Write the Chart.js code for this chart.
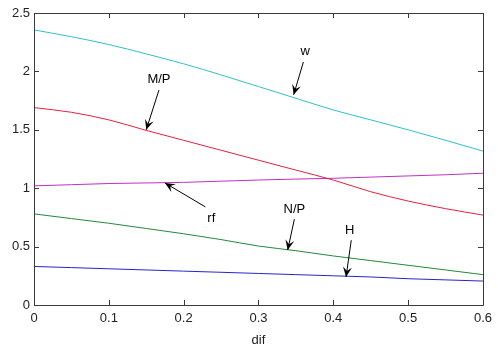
<!DOCTYPE html>
<html>
<head>
<meta charset="utf-8">
<script src="https://cdn.jsdelivr.net/npm/chart.js@4/dist/chart.umd.min.js"></script>
<style>
  html, body { margin: 0; padding: 0; background: #fff; }
  #wrap { width: 498px; height: 348px; }
</style>
</head>
<body>
<div id="wrap"><canvas id="chart" width="498" height="348"></canvas></div>
<script>
const dif = [0, 0.05, 0.1, 0.15, 0.2, 0.25, 0.3, 0.35, 0.4, 0.45, 0.5, 0.55, 0.6];
const w   = [2.355, 2.297, 2.23, 2.15, 2.065, 1.97, 1.87, 1.77, 1.67, 1.585, 1.50, 1.41, 1.318];
const mp  = [1.69, 1.65, 1.585, 1.495, 1.41, 1.325, 1.24, 1.155, 1.07, 0.97, 0.89, 0.825, 0.77];
const rf  = [1.02, 1.03, 1.04, 1.045, 1.05, 1.06, 1.07, 1.078, 1.085, 1.095, 1.105, 1.115, 1.128];
const np  = [0.78, 0.74, 0.70, 0.655, 0.61, 0.56, 0.505, 0.465, 0.42, 0.38, 0.34, 0.30, 0.26];
const h   = [0.33, 0.32, 0.31, 0.30, 0.29, 0.28, 0.27, 0.26, 0.25, 0.24, 0.225, 0.215, 0.205];

const xTicks = [0, 0.1, 0.2, 0.3, 0.4, 0.5, 0.6];
const yTicks = [0, 0.5, 1, 1.5, 2, 2.5];

// annotation: label, text position, arrow tail, arrow tip (data units)
const notes = [
  { text: "w",   tx: 0.3625, ty: 2.17, x0: 0.360, y0: 2.08, x1: 0.347, y1: 1.80 },
  { text: "M/P", tx: 0.167,  ty: 1.93, x0: 0.167, y0: 1.84, x1: 0.150, y1: 1.50 },
  { text: "rf",  tx: 0.237,  ty: 0.74, x0: 0.229, y0: 0.84, x1: 0.175, y1: 1.045 },
  { text: "N/P", tx: 0.348,  ty: 0.82, x0: 0.348, y0: 0.735, x1: 0.339, y1: 0.47 },
  { text: "H",   tx: 0.422,  ty: 0.64, x0: 0.424, y0: 0.555, x1: 0.417, y1: 0.24 }
];

const pts = arr => arr.map((v, i) => ({ x: dif[i], y: v }));
const line = (data, color) => ({
  data: pts(data), borderColor: color, borderWidth: 1, pointRadius: 0,
  fill: false, cubicInterpolationMode: "monotone"
});

const font = "'Liberation Sans', Arial, sans-serif";

const boxPlugin = {
  id: "box",
  afterDatasetsDraw(chart) {
    const { ctx, chartArea: a, scales: { x, y } } = chart;
    ctx.save();
    ctx.strokeStyle = "#3a3a3a";
    ctx.lineWidth = 1;
    ctx.beginPath();
    ctx.rect(Math.round(a.left) + 0.5, Math.round(a.top) + 0.5,
             Math.round(a.right - a.left), Math.round(a.bottom - a.top));
    xTicks.forEach(t => {
      const px = Math.round(x.getPixelForValue(t)) + 0.5;
      ctx.moveTo(px, a.bottom); ctx.lineTo(px, a.bottom - 5);
      ctx.moveTo(px, a.top); ctx.lineTo(px, a.top + 5);
    });
    yTicks.forEach(t => {
      const py = Math.round(y.getPixelForValue(t)) + 0.5;
      ctx.moveTo(a.left, py); ctx.lineTo(a.left + 5, py);
      ctx.moveTo(a.right, py); ctx.lineTo(a.right - 5, py);
    });
    ctx.stroke();

    // arrows and labels
    ctx.strokeStyle = "#000";
    ctx.fillStyle = "#000";
    ctx.font = "13px " + font;
    ctx.textAlign = "center";
    ctx.textBaseline = "middle";
    notes.forEach(n => {
      const x0 = x.getPixelForValue(n.x0), y0 = y.getPixelForValue(n.y0);
      const x1 = x.getPixelForValue(n.x1), y1 = y.getPixelForValue(n.y1);
      ctx.beginPath();
      ctx.moveTo(x0, y0); ctx.lineTo(x1, y1);
      ctx.stroke();
      const ang = Math.atan2(y1 - y0, x1 - x0);
      const len = 11, wid = 0.42;
      ctx.beginPath();
      ctx.moveTo(x1, y1);
      ctx.lineTo(x1 - len * Math.cos(ang - wid), y1 - len * Math.sin(ang - wid));
      ctx.lineTo(x1 - len * 0.55 * Math.cos(ang), y1 - len * 0.55 * Math.sin(ang));
      ctx.lineTo(x1 - len * Math.cos(ang + wid), y1 - len * Math.sin(ang + wid));
      ctx.closePath();
      ctx.fill();
      ctx.fillText(n.text, x.getPixelForValue(n.tx), y.getPixelForValue(n.ty));
    });
    ctx.restore();
  }
};

new Chart(document.getElementById("chart").getContext("2d"), {
  type: "line",
  data: {
    datasets: [
      line(w, "#2fbfca"),
      line(mp, "#e3203e"),
      line(rf, "#c030c8"),
      line(np, "#21893a"),
      line(h, "#2626c8")
    ]
  },
  options: {
    responsive: false,
    animation: false,
    layout: { autoPadding: false, padding: { top: 13, right: 12, left: 0, bottom: 0 } },
    plugins: { legend: { display: false }, tooltip: { enabled: false } },
    scales: {
      x: {
        type: "linear", min: 0, max: 0.6,
        afterBuildTicks: s => { s.ticks = xTicks.map(v => ({ value: v })); },
        afterFit: s => { s.height = 43; },
        grid: { display: false, drawTicks: false },
        border: { display: false },
        ticks: { color: "#222", font: { family: font, size: 13 }, padding: 6,
                 maxRotation: 0, callback: v => String(v) },
        title: { display: true, text: "dif", color: "#222",
                 font: { family: font, size: 13 }, padding: { top: 0, bottom: 0 } }
      },
      y: {
        min: 0, max: 2.5,
        afterBuildTicks: s => { s.ticks = yTicks.map(v => ({ value: v })); },
        afterFit: s => { s.width = 34; },
        grid: { display: false, drawTicks: false },
        border: { display: false },
        ticks: { color: "#222", font: { family: font, size: 13 }, padding: 4,
                 callback: v => String(v) }
      }
    }
  },
  plugins: [boxPlugin]
});
</script>
</body>
</html>
